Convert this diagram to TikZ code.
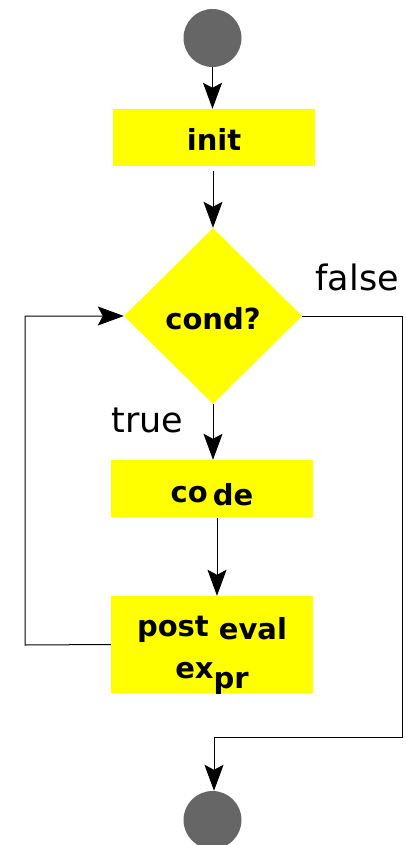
\documentclass[tikz,border=0pt]{standalone}
\usepackage{fontspec}
\setmainfont{DejaVu Sans}
\usetikzlibrary{arrows.meta}
\usetikzlibrary{shapes.geometric}
\definecolor{flowyellow}{HTML}{FFFF00}
\definecolor{flowgray}{HTML}{666666}
\newcommand{\flowfont}{\fontsize{29}{42}\selectfont\bfseries}
\newcommand{\labelfont}{\fontsize{35}{42}\selectfont}
\tikzset{flowbox/.style={fill=flowyellow, minimum width=202pt, minimum height=57pt, inner sep=0pt, font=\flowfont, text height=27pt, text depth=0pt},
  terminal/.style={circle, fill=flowgray, minimum size=58pt, inner sep=0pt},
  flowarrow/.style={line width=1pt, -{Stealth[length=26pt, width=19pt, inset=5pt]}}}

\begin{document}
\begin{tikzpicture}[x=1pt, y=-1pt]
      \useasboundingbox (0, 0) rectangle (405, 845);

      \node [terminal] (start) at (212.5, 38) {};
      \node [flowbox] (init) at (214, 137.5) {init};
      \node [diamond, fill=flowyellow, minimum width=178pt, minimum height=176pt, inner sep=0pt, font=\flowfont, text height=27pt, text depth=0pt] (cond) at (213, 316) {cond?};
      \node [flowbox] (code) at (212, 488.5) {co\hspace{5pt}\raisebox{-3pt}{de}};
      \node [flowbox, minimum height=97pt] (post) at (212, 644.5) {};
      \node [font=\flowfont, align=center, inner sep=0pt] (posttext) at ([yshift=-11pt]post.center) {post \raisebox{-3pt}{eval}\\ex\raisebox{-10pt}{pr}};
      \node [terminal] (stop) at (212.5, 820) {};

      \node [anchor=base west, font=\labelfont] (false) at (312, 290) {false};
      \node [anchor=base west, font=\labelfont] (true) at (108, 432) {true};

      \coordinate (rcorner) at (402, 737);
      \coordinate (join) at (214, 737);
      \coordinate (lcorner) at (25, 645);

      \draw [flowarrow] (start.south) -- (start.south |- init.north);
      \draw [flowarrow, shorten <=5pt] (init.south -| cond.north) -- (cond.north);
      \draw [flowarrow] (cond.south) -- (cond.south |- code.north);
      \draw [flowarrow, shorten <=1pt] ([xshift=5pt]code.south) -- ([xshift=5pt]post.north);

      % false branch
      \draw [line width=1pt] (cond.east) -| (rcorner) -- (join);
      \draw [flowarrow] (join) -- (join |- stop.north);

      % loop back
      \draw [flowarrow] (post.west) -- (lcorner) |- (cond.west);
    \end{tikzpicture}
\end{document}
